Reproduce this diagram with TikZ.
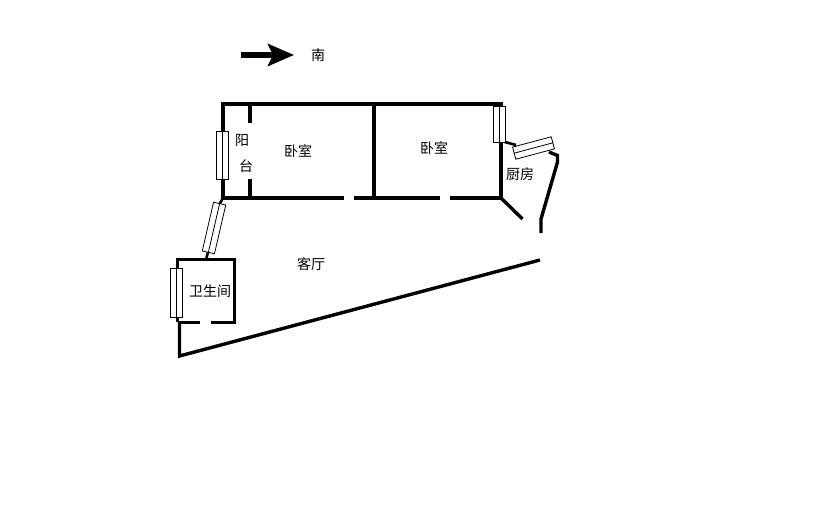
\documentclass[tikz,border=0pt]{standalone}
\usepackage{xcolor}
\usepackage{fontspec}
\usepackage{tikz}
\setmainfont{Noto Sans CJK SC}
\usetikzlibrary{positioning}
\usetikzlibrary{arrows.meta}
\tikzset{
	wall/.style={line width=3.4pt, black},
	thinwall/.style={line width=2.6pt, black},
	windowbox/.style={draw=black, fill=white, line width=0.8pt, inner sep=0pt, minimum width=12.5pt},
	roomlabel/.style={font=\fontsize{14pt}{15pt}\selectfont, inner sep=0pt, text=black}
}

\begin{document}
\begin{tikzpicture}[x=1pt, y=-1pt]
	\useasboundingbox (0,0) rectangle (814,519);
	\fill[white] (0,0) rectangle (814,519);

	\draw[wall] (223,198) -- (223,104) -- (503,104);
	\draw[wall] (223,198) -- (344,198);
	\draw[wall] (354,198) -- (440,198);
	\draw[wall] (450,198) -- (501,198) -- (501,142);
	\draw[wall] (374,104) -- (374,198);
	\draw[wall] (250,104) -- (250,123);
	\draw[wall] (250,179) -- (250,198);
	\draw[wall] (501,198) -- (522.5,219);

	\draw[thinwall] (503,141.5) -- (516,145);
	\draw[wall] (549,152) -- (557.5,155.5) -- (557.5,162) -- (541,219) -- (541,233);

	\draw[wall] (540,260) -- (179.5,356) -- (179.5,322);
	\draw[wall] (177.5,322) -- (177.5,259.5) -- (234.5,259.5) -- (234.5,322.5) -- (211,322.5);
	\draw[wall] (177.5,322.5) -- (200,322.5);
	\draw[thinwall] (223,198) -- (219,205);
	\draw[thinwall] (208,252) -- (206,260);

	\node[windowbox, minimum height=48pt] (eastwindow) at (222.5,155) {};
	\node[windowbox, minimum height=36pt] (kitchenwindow) at (499.5,124) {};
	\node[windowbox, minimum height=40pt, rotate=-75] (cornerwindow) at (533.5,148) {};
	\node[windowbox, minimum height=50pt, rotate=-13] (linkwindow) at (214,228) {};
	\node[windowbox, minimum height=49pt] (bathwindow) at (176.5,293) {};
	\draw[line width=0.8pt] (eastwindow.north) -- (eastwindow.south);
	\draw[line width=0.8pt] (kitchenwindow.north) -- (kitchenwindow.south);
	\draw[line width=0.8pt] (cornerwindow.north) -- (cornerwindow.south);
	\draw[line width=0.8pt] (linkwindow.north) -- (linkwindow.south);
	\draw[line width=0.8pt] (bathwindow.north) -- (bathwindow.south);

	\coordinate (arrowstart) at (241,55);
	\coordinate (arrowend) at (294,55);
	\draw[line width=5.5pt, -{Stealth[length=26pt, width=22pt, inset=5pt]}] (arrowstart) -- (arrowend);

	\node[roomlabel] (south) at (318,55) {南};
	\node[roomlabel] (balconya) at (242,140) {阳};
	\node[roomlabel] (balconyb) at (246,166) {台};
	\node[roomlabel] (bedrooma) at (298,151) {卧室};
	\node[roomlabel] (bedroomb) at (434,148) {卧室};
	\node[roomlabel] (kitchen) at (520,174) {厨房};
	\node[roomlabel] (living) at (311,264) {客厅};
	\node[roomlabel] (bath) at (210,291) {卫生间};
\end{tikzpicture}
\end{document}
